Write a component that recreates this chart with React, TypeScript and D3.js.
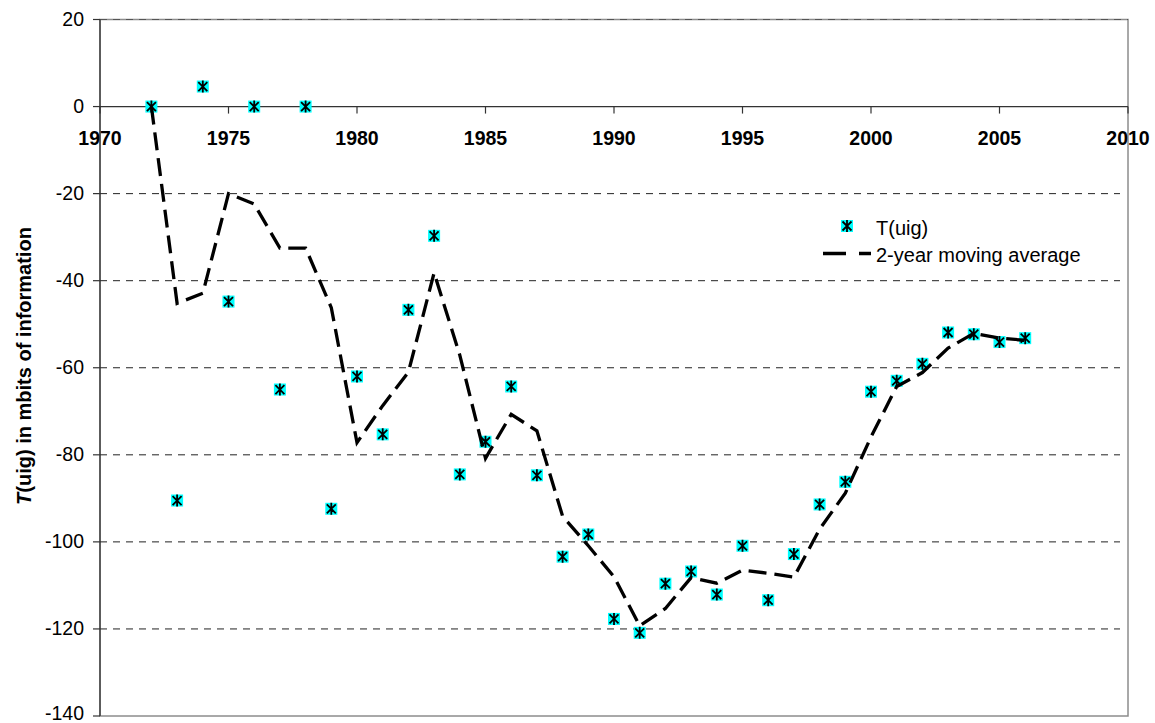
import React from "react";
import * as d3 from "d3";

// T(uig) values, one per year
const years = [
  1972, 1973, 1974, 1975, 1976, 1977, 1978, 1979, 1980, 1981, 1982, 1983,
  1984, 1985, 1986, 1987, 1988, 1989, 1990, 1991, 1992, 1993, 1994, 1995,
  1996, 1997, 1998, 1999, 2000, 2001, 2002, 2003, 2004, 2005, 2006,
];
const tuig = [
  0, -90.5, 4.6, -44.8, 0, -65.0, 0, -92.4, -62.0, -75.3, -46.7, -29.7,
  -84.5, -77.0, -64.3, -84.7, -103.4, -98.3, -117.7, -120.9, -109.6, -106.8, -112.1, -100.9,
  -113.4, -102.8, -91.4, -86.2, -65.5, -63.0, -59.1, -51.9, -52.3, -54.1, -53.2,
];
// 2-year moving average line as drawn
const movingAvg = [
  0, -45.2, -42.9, -20.0, -22.4, -32.5, -32.5, -46.2, -77.2, -68.7, -61.0, -38.2,
  -57.1, -80.8, -70.7, -74.5, -94.1, -100.9, -108.0, -119.3, -115.3, -108.2, -109.5, -106.5,
  -107.2, -108.1, -97.1, -88.8, -75.9, -64.3, -61.1, -55.5, -52.1, -53.2, -53.7,
];
const xTicks = [1970, 1975, 1980, 1985, 1990, 1995, 2000, 2005, 2010];
const yTicks = [20, 0, -20, -40, -60, -80, -100, -120, -140];
const gridValues = [-20, -40, -60, -80, -100, -120];

const W = 1155;
const H = 723;
const left = 100;
const right = 1128;
const top = 19.5;
const bottom = 716;
const font = "'Liberation Sans', Arial, sans-serif";

function Marker({ x, y, size = 12 }: { x: number; y: number; size?: number }) {
  const h = size / 2;
  const a = h - 1.5;
  return (
    <g transform={`translate(${x},${y})`}>
      <rect x={-h} y={-h} width={size} height={size} fill="#00FFFF" />
      <path
        d={`M${-a},${-a}L${a},${a}M${-a},${a}L${a},${-a}M0,${-h}L0,${h}`}
        stroke="#000"
        strokeWidth={1.8}
        fill="none"
      />
    </g>
  );
}

export default function App() {
  const x = d3.scaleLinear().domain([1970, 2010]).range([left, right]);
  const y = d3.scaleLinear().domain([-140, 20]).range([bottom, top]);

  const lineGen = d3
    .line<number>()
    .x((_, i) => x(years[i]))
    .y((d) => y(d));

  return (
    <div style={{ position: "absolute", left: 0, top: 0 }}>
      <svg width={W} height={H} style={{ display: "block", background: "#fff" }}>
        {/* plot border */}
        <rect
          x={left}
          y={top}
          width={right - left}
          height={bottom - top}
          fill="none"
          stroke="#8c8c8c"
          strokeWidth={1.5}
        />
        {/* grid lines */}
        {gridValues.map((v) => (
          <line
            key={v}
            x1={left}
            x2={right - 8}
            y1={y(v)}
            y2={y(v)}
            stroke="#222"
            strokeWidth={1}
            strokeDasharray="7,6"
          />
        ))}
        <line x1={left} x2={right} y1={y(20)} y2={y(20)} stroke="#555" strokeWidth={1} strokeDasharray="7,6" />

        {/* y axis */}
        <line x1={left} x2={left} y1={top} y2={bottom} stroke="#333" strokeWidth={1.3} />
        {yTicks.map((v) => (
          <g key={v}>
            <line x1={left - 7} x2={left} y1={y(v)} y2={y(v)} stroke="#333" strokeWidth={1.2} />
            <text
              x={left - 16}
              y={v === -140 ? y(v) - 2 : y(v)}
              dy="0.33em"
              textAnchor="end"
              fontFamily={font}
              fontSize={19.5}
              fill="#000"
            >
              {v}
            </text>
          </g>
        ))}

        {/* x axis at zero */}
        <line x1={left} x2={right} y1={y(0)} y2={y(0)} stroke="#333" strokeWidth={1.3} />
        {xTicks.map((t) => (
          <g key={t}>
            <line x1={x(t)} x2={x(t)} y1={y(0)} y2={y(0) + 7} stroke="#333" strokeWidth={1.2} />
            <text
              x={x(t)}
              y={y(0) + 38.5}
              textAnchor="middle"
              fontFamily={font}
              fontWeight="bold"
              fontSize={19.5}
              fill="#000"
            >
              {t}
            </text>
          </g>
        ))}

        {/* y axis title */}
        <text
          transform={`translate(31,366) rotate(-90)`}
          textAnchor="middle"
          fontFamily={font}
          fontWeight="bold"
          fontSize={20}
          fill="#000"
        >
          <tspan fontStyle="italic">T</tspan>
          <tspan>(uig) in mbits of information</tspan>
        </text>

        {/* data points */}
        {tuig.map((v, i) => (
          <Marker key={years[i]} x={x(years[i])} y={y(v)} />
        ))}

        {/* moving average */}
        <path
          d={lineGen(movingAvg) || ""}
          fill="none"
          stroke="#000"
          strokeWidth={3.3}
          strokeDasharray="18,8"
          strokeLinejoin="miter"
        />

        {/* legend */}
        <Marker x={847} y={226} size={12} />
        <text x={876} y={228} dy="0.36em" fontFamily={font} fontSize={20} fill="#000">
          T(uig)
        </text>
        <line x1={823} x2={871} y1={253.5} y2={253.5} stroke="#000" strokeWidth={3.5} strokeDasharray="23,13" />
        <text x={876} y={254.5} dy="0.36em" fontFamily={font} fontSize={20} fill="#000">
          2-year moving average
        </text>
      </svg>
    </div>
  );
}
